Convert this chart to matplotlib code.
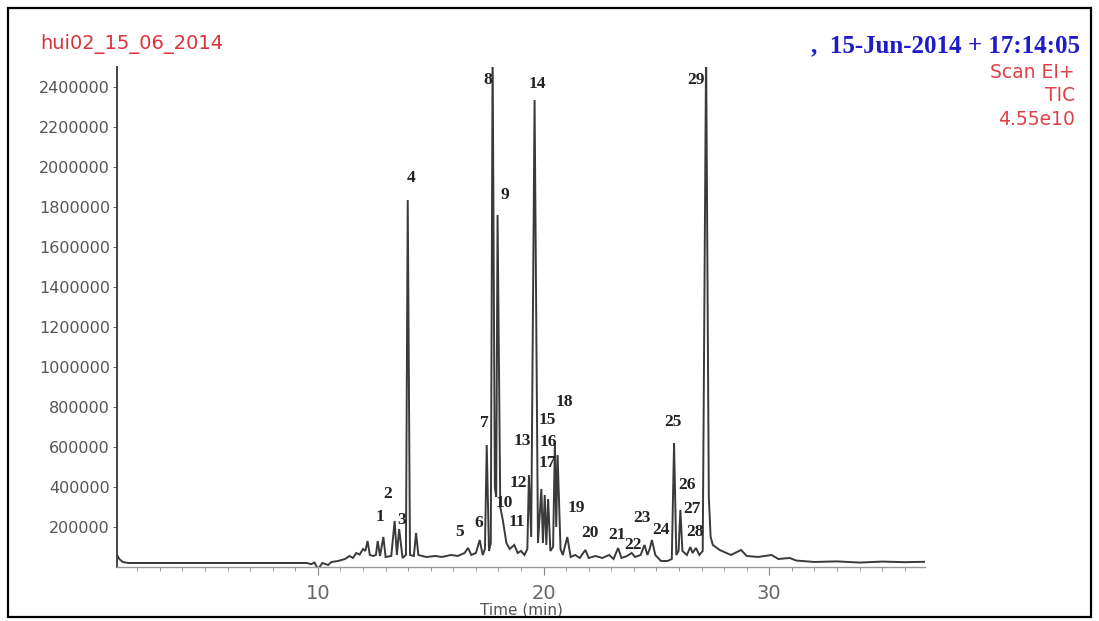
import matplotlib
matplotlib.use("Agg")
import matplotlib.pyplot as plt
from matplotlib.patches import Rectangle
from matplotlib.ticker import MultipleLocator, FixedLocator

# ---- data (time in min, TIC intensity) ----
trace_time = [1.10, 1.20, 1.35, 1.60, 9.50, 9.70, 9.85, 10.00, 10.20, 10.45, 10.60,
              10.90, 11.20, 11.40, 11.55, 11.70, 11.85, 12.00, 12.10, 12.20, 12.30,
              12.45, 12.57, 12.65, 12.75, 12.90, 13.00, 13.25, 13.40, 13.50, 13.60,
              13.75, 13.90, 13.98, 14.08, 14.25, 14.35, 14.45, 14.80, 15.20, 15.50,
              15.90, 16.20, 16.50, 16.65, 16.80, 17.00, 17.17, 17.30, 17.40, 17.48,
              17.58, 17.66, 17.74, 17.84, 17.90, 17.96, 18.08, 18.20, 18.35, 18.50,
              18.70, 18.85, 19.00, 19.15, 19.28, 19.35, 19.45, 19.60, 19.75, 19.90,
              19.97, 20.05, 20.12, 20.20, 20.30, 20.42, 20.50, 20.56, 20.62, 20.75,
              20.85, 21.05, 21.20, 21.40, 21.60, 21.85, 22.00, 22.30, 22.60, 22.90,
              23.10, 23.30, 23.45, 23.70, 23.90, 24.05, 24.30, 24.47, 24.60, 24.70,
              24.80, 24.95, 25.20, 25.50, 25.68, 25.78, 25.88, 25.98, 26.06, 26.15,
              26.35, 26.50, 26.60, 26.75, 26.90, 27.05, 27.20, 27.32, 27.40, 27.50,
              27.80, 28.30, 28.75, 29.00, 29.50, 30.10, 30.40, 30.90, 31.20, 32.00,
              33.00, 34.00, 35.00, 36.00, 36.90]
trace_signal = [60000, 40000, 25000, 20000, 20000, 14000, 22000, -10000, 20000, 10000, 25000,
                30000, 40000, 55000, 45000, 70000, 62000, 90000, 80000, 130000, 60000,
                55000, 60000, 130000, 55000, 150000, 50000, 55000, 230000, 60000, 190000,
                45000, 60000, 1835000, 60000, 55000, 170000, 60000, 50000, 55000, 50000,
                60000, 55000, 70000, 95000, 60000, 70000, 135000, 60000, 90000, 610000,
                80000, 120000, 2600000, 400000, 350000, 1760000, 300000, 230000, 120000, 90000,
                110000, 70000, 80000, 60000, 90000, 460000, 150000, 2335000, 120000, 390000,
                120000, 360000, 110000, 340000, 80000, 100000, 620000, 200000, 560000, 90000,
                60000, 150000, 50000, 60000, 45000, 85000, 45000, 55000, 45000, 60000,
                40000, 95000, 45000, 55000, 70000, 50000, 60000, 110000, 60000, 90000,
                135000, 60000, 30000, 30000, 40000, 620000, 60000, 80000, 285000, 80000,
                60000, 100000, 70000, 95000, 60000, 80000, 2600000, 350000, 150000, 110000,
                85000, 60000, 85000, 55000, 50000, 60000, 40000, 45000, 32000, 25000,
                28000, 22000, 27000, 24000, 26000]

peak_labels = [str(i) for i in range(1, 30)]
label_time = [12.74, 13.10, 13.72, 14.12, 16.28, 17.12, 17.39, 17.52, 18.27, 18.27,
              18.80, 18.90, 19.07, 19.73, 20.18, 20.22, 20.18, 20.93, 21.46, 22.04,
              23.23, 23.98, 24.34, 25.18, 25.71, 26.37, 26.59, 26.73, 26.77]
label_signal = [250000, 365000, 235000, 1945000, 175000, 220000, 720000, 2435000, 1860000, 320000,
                225000, 420000, 630000, 2415000, 735000, 625000, 520000, 825000, 295000, 170000,
                160000, 110000, 245000, 185000, 725000, 410000, 290000, 175000, 2435000]

y_ticks = [200000, 400000, 600000, 800000, 1000000, 1200000, 1400000, 1600000,
           1800000, 2000000, 2200000, 2400000]
x_ticks = [10, 20, 30]

fig = plt.figure(figsize=(10.99, 6.21), dpi=100)
ax = fig.add_axes([0.1065, 0.087, 0.7352, 0.805])

ax.plot(trace_time, trace_signal, color="#3a3a3a", lw=1.4, solid_joinstyle="miter")
ax.set_xlim(1.1, 36.9)
ax.set_ylim(0, 2500000)

for lab, t, v in zip(peak_labels, label_time, label_signal):
    ax.text(t, v, lab, ha="center", va="center", fontsize=12.5, fontweight="bold",
            family="Liberation Serif", color="#222222")

for s in ("top", "right"):
    ax.spines[s].set_visible(False)
ax.spines["left"].set_color("#444444")
ax.spines["left"].set_linewidth(1.4)
ax.spines["bottom"].set_color("#999999")
ax.spines["bottom"].set_linewidth(1.0)

ax.yaxis.set_major_locator(FixedLocator(y_ticks))
ax.set_yticklabels([str(v) for v in y_ticks])
ax.xaxis.set_major_locator(FixedLocator(x_ticks))
ax.xaxis.set_minor_locator(MultipleLocator(1))
ax.set_xticklabels([str(v) for v in x_ticks])
ax.tick_params(axis="y", direction="out", length=3, color="#666666", labelsize=11.5,
               labelcolor="#555555", pad=2)
ax.tick_params(axis="x", which="major", direction="out", length=6, color="#888888",
               labelsize=14, labelcolor="#666666", pad=6)
ax.tick_params(axis="x", which="minor", direction="out", length=3, color="#888888")
ax.set_xlabel("Time (min)", fontsize=11, color="#555555", labelpad=0)

fig.text(0.0364, 0.929, "hui02_15_06_2014", fontsize=14, color="#d9323c",
         ha="left", va="center")
fig.text(0.983, 0.927, ",  15-Jun-2014 + 17:14:05", fontsize=18, color="#1c1cc8",
         ha="right", va="center", family="Liberation Serif", fontweight="bold")
fig.text(0.978, 0.884, "Scan EI+", fontsize=13.5, color="#e0404a", ha="right", va="center")
fig.text(0.978, 0.846, "TIC", fontsize=13.5, color="#e0404a", ha="right", va="center")
fig.text(0.978, 0.807, "4.55e10", fontsize=13.5, color="#e0404a", ha="right", va="center")

fig.patches.append(Rectangle((0.0073, 0.0064), 0.9854, 0.9807, transform=fig.transFigure,
                             fill=False, edgecolor="black", lw=1.6))

fig.savefig("out.png", dpi=100, facecolor="white")
